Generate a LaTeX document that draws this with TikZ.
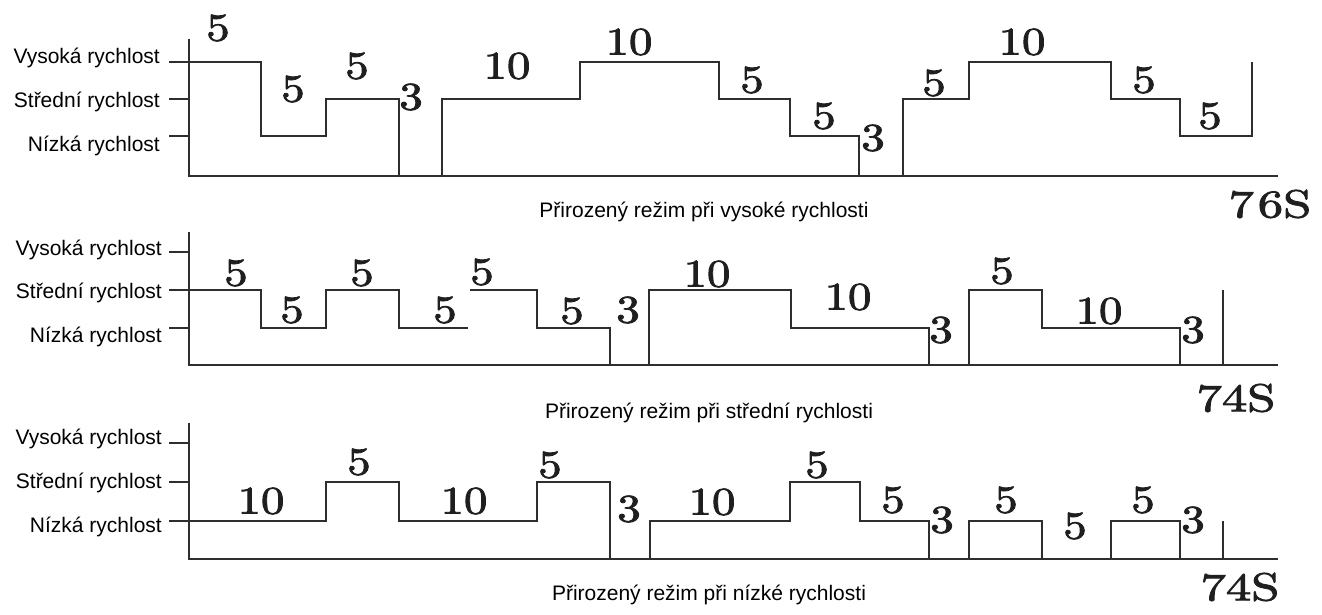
\documentclass[tikz,border=0pt]{standalone}
\usepackage{fontspec}
\usepackage{graphicx}
\newfontfamily\arialf{Liberation Sans}
\newfontfamily\numf{lmroman10-regular}[Extension=.otf, FakeBold=2]
\newcommand{\dgt}[1]{\scalebox{1.2}[1]{#1}}
\newcommand{\dgs}[1]{\scalebox{1.3}[1]{#1}}
\tikzset{
  wave/.style={line width=2.4pt, draw=black!82, line join=miter},
  lab/.style={font=\arialf\fontsize{21}{25}\selectfont, anchor=east, inner sep=0pt},
  captxt/.style={font=\arialf\fontsize{21}{25}\selectfont, inner sep=0pt},
  num/.style={font=\numf\fontsize{39}{46}\selectfont, inner sep=0pt, text=black!88},
}
\begin{document}
\begin{tikzpicture}[x=1pt,y=-1pt]
\useasboundingbox (0,0) rectangle (1322,614);
\fill[white] (0,0) rectangle (1322,614);

% ================= Chart 1 =================
\draw[wave] (189,39) -- (189,176) -- (1278,176);
\draw[wave] (169,99) -- (189,99);
\draw[wave] (169,136) -- (189,136);
\draw[wave] (169,62) -- (261,62) -- (261,136) -- (326,136) -- (326,99) -- (399,99) -- (399,176);
\draw[wave] (442,176) -- (442,99) -- (580,99) -- (580,62) -- (719,62) -- (719,99) -- (790,99) -- (790,136) -- (859,136) -- (859,176);
\draw[wave] (903,176) -- (903,99) -- (969,99) -- (969,62) -- (1111,62) -- (1111,99) -- (1180,99) -- (1180,136) -- (1252,136) -- (1252,62);

\node[lab] (a1) at (160,58) {Vysoká rychlost};
\node[lab] (a2) at (160,102) {Střední rychlost};
\node[lab] (a3) at (160,146) {Nízká rychlost};

\node[num] (n101) at (218,28) {\dgt{5}};
\node[num] (n102) at (293,89) {\dgt{5}};
\node[num] (n103) at (357,66) {\dgt{5}};
\node[num] (n104) at (411,97) {\dgt{3}};
\node[num] (n105) at (507,66) {\dgt{10}};
\node[num] (n106) at (629,42) {\dgt{10}};
\node[num] (n107) at (752,80) {\dgt{5}};
\node[num] (n108) at (824,116) {\dgt{5}};
\node[num] (n109) at (873,138) {\dgt{3}};
\node[num] (n110) at (934,83) {\dgt{5}};
\node[num] (n111) at (1022,42) {\dgt{10}};
\node[num] (n112) at (1144,80) {\dgt{5}};
\node[num] (n113) at (1210,116) {\dgt{5}};

\node[num] (t1) at (1270,204) {\dgs{7\kern3pt6S}};
\node[captxt] (c1) at (704,212) {Přirozený režim při vysoké rychlosti};

% ================= Chart 2 =================
\draw[wave] (189,232) -- (189,365) -- (1278,365);
\draw[wave] (169,252) -- (189,252);
\draw[wave] (169,328) -- (189,328);
\draw[wave] (169,290) -- (261,290) -- (261,328) -- (326,328) -- (326,290) -- (399,290) -- (399,328) -- (468,328);
\draw[wave] (470,290) -- (537,290) -- (537,328) -- (610,328) -- (610,365);
\draw[wave] (649,365) -- (649,290) -- (791,290) -- (791,328) -- (929,328) -- (929,365);
\draw[wave] (969,365) -- (969,290) -- (1042,290) -- (1042,328) -- (1180,328) -- (1180,365);
\draw[wave] (1223,365) -- (1223,290);

\node[lab] (b1) at (162,250) {Vysoká rychlost};
\node[lab] (b2) at (162,293) {Střední rychlost};
\node[lab] (b3) at (162,337) {Nízká rychlost};

\node[num] (n201) at (236,273) {\dgt{5}};
\node[num] (n202) at (292,310) {\dgt{5}};
\node[num] (n203) at (362,273) {\dgt{5}};
\node[num] (n204) at (445,310) {\dgt{5}};
\node[num] (n205) at (482,272) {\dgt{5}};
\node[num] (n206) at (572,311) {\dgt{5}};
\node[num] (n207) at (628,310) {\dgt{3}};
\node[num] (n208) at (707,274) {\dgt{10}};
\node[num] (n209) at (848,297) {\dgt{10}};
\node[num] (n210) at (941,330) {\dgt{3}};
\node[num] (n211) at (1002,271) {\dgt{5}};
\node[num] (n212) at (1099,311) {\dgt{10}};
\node[num] (n213) at (1193,330) {\dgt{3}};

\node[num] (t2) at (1236,398) {\dgs{74S}};
\node[captxt] (c2) at (709,413) {Přirozený režim při střední rychlosti};

% ================= Chart 3 =================
\draw[wave] (189,423) -- (189,559) -- (1278,559);
\draw[wave] (169,443) -- (189,443);
\draw[wave] (169,482) -- (189,482);
\draw[wave] (169,521) -- (326,521) -- (326,482) -- (399,482) -- (399,521) -- (537,521) -- (537,482) -- (610,482) -- (610,559);
\draw[wave] (650,559) -- (650,521) -- (790,521) -- (790,482) -- (860,482) -- (860,521) -- (929,521) -- (929,559);
\draw[wave] (969,559) -- (969,521) -- (1042,521) -- (1042,559);
\draw[wave] (1111,559) -- (1111,521) -- (1180,521) -- (1180,559);
\draw[wave] (1223,559) -- (1223,521);

\node[lab] (d1) at (162,439) {Vysoká rychlost};
\node[lab] (d2) at (162,483) {Střední rychlost};
\node[lab] (d3) at (162,527) {Nízká rychlost};

\node[num] (n301) at (261,501) {\dgt{10}};
\node[num] (n302) at (359,462) {\dgt{5}};
\node[num] (n303) at (464,501) {\dgt{10}};
\node[num] (n304) at (550,465) {\dgt{5}};
\node[num] (n305) at (629,509) {\dgt{3}};
\node[num] (n306) at (712,502) {\dgt{10}};
\node[num] (n307) at (817,465) {\dgt{5}};
\node[num] (n308) at (893,500) {\dgt{5}};
\node[num] (n309) at (942,520) {\dgt{3}};
\node[num] (n310) at (1006,500) {\dgt{5}};
\node[num] (n311) at (1075,526) {\dgt{5}};
\node[num] (n312) at (1143,500) {\dgt{5}};
\node[num] (n313) at (1193,520) {\dgt{3}};

\node[num] (t3) at (1240,587) {\dgs{74S}};
\node[captxt] (c3) at (709,595) {Přirozený režim při nízké rychlosti};
\end{tikzpicture}
\end{document}
